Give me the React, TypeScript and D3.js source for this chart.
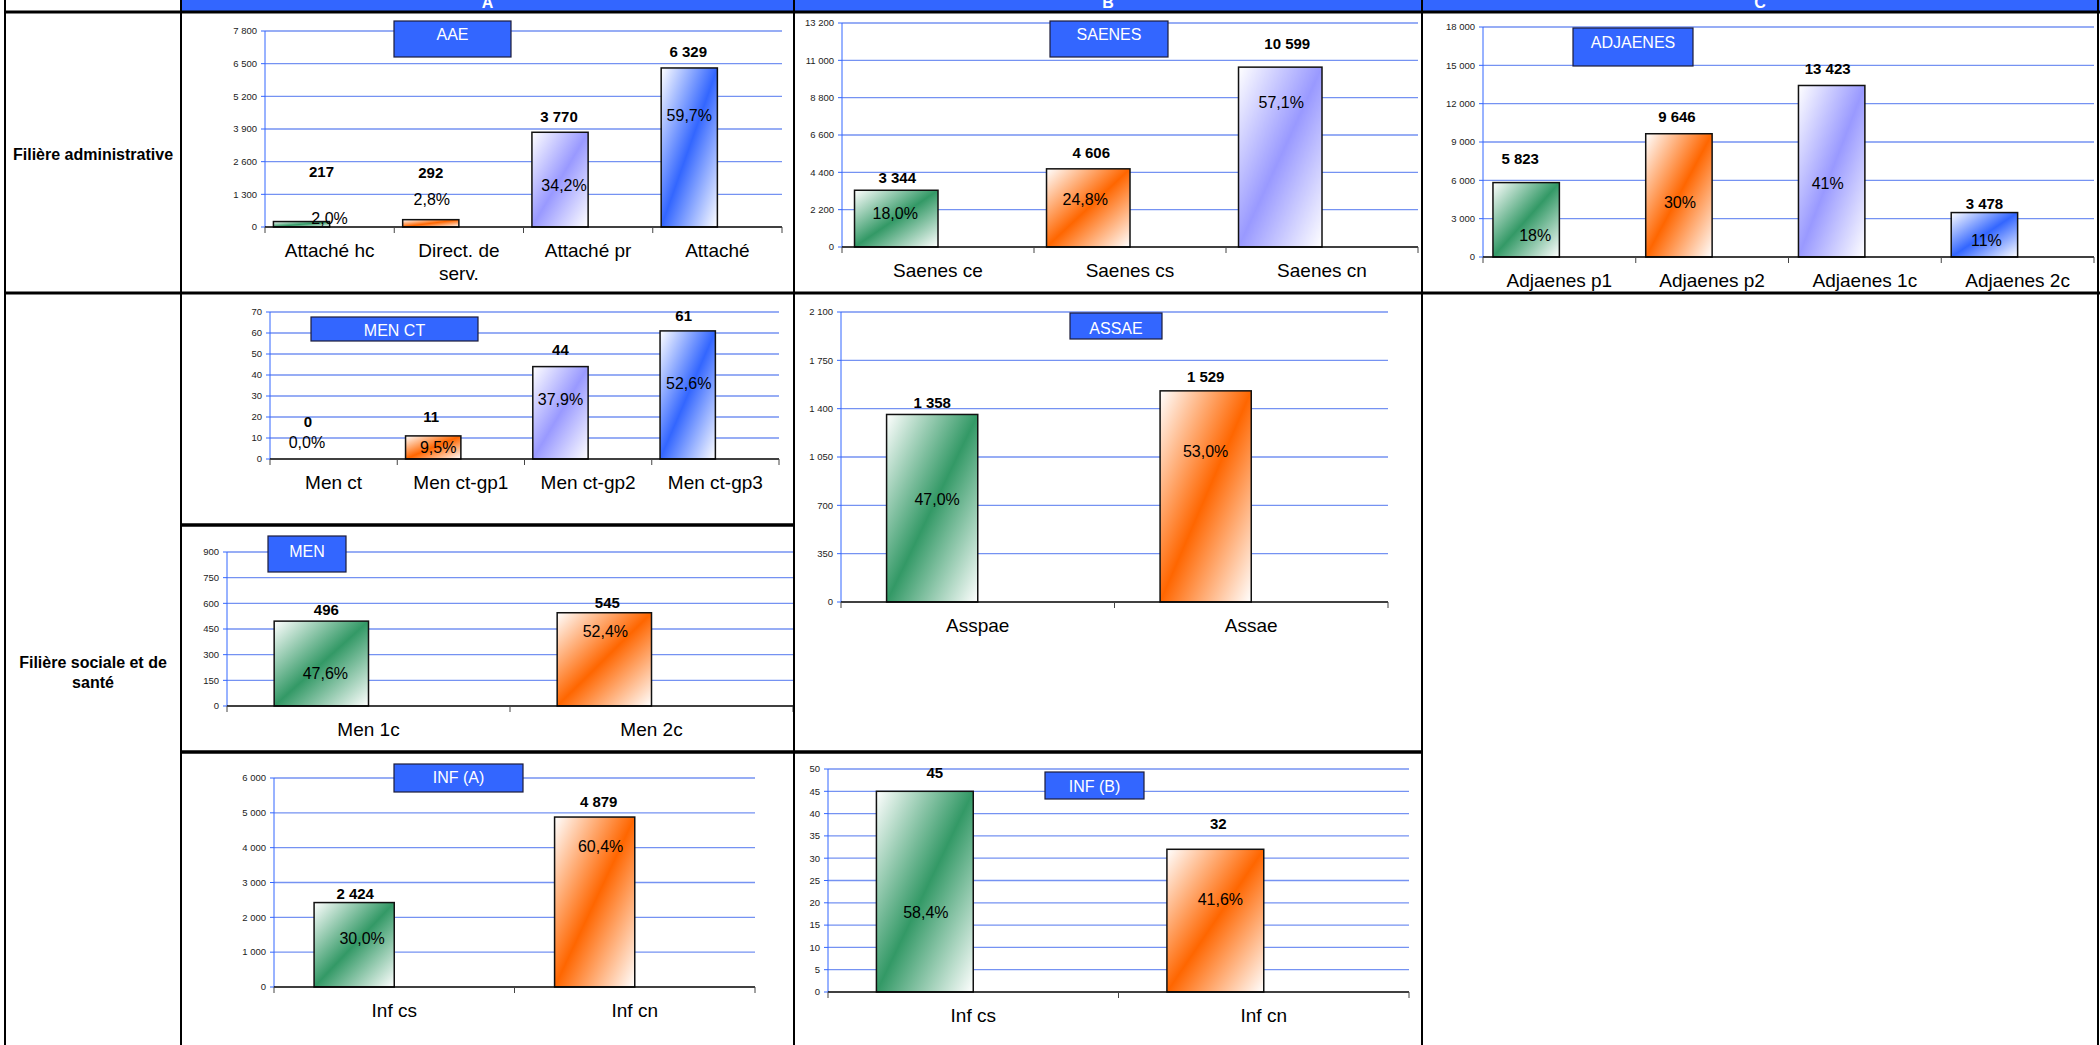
import React from "react";
import * as d3 from "d3";

const FONT = '"Liberation Sans", Arial, Helvetica, sans-serif';

// ---------------- data ----------------
const columnHeaders = ["A", "B", "C"];
const rowHeaders = ["Filière administrative", "Filière sociale et de santé"];

const aaeCategories = ["Attaché hc", "Direct. de serv.", "Attaché pr", "Attaché"];
const aaeValues = [217, 292, 3770, 6329];
const aaeShares = ["2,0%", "2,8%", "34,2%", "59,7%"];
const aaeTicks = [0, 1300, 2600, 3900, 5200, 6500, 7800];

const saenesCategories = ["Saenes ce", "Saenes cs", "Saenes cn"];
const saenesValues = [3344, 4606, 10599];
const saenesShares = ["18,0%", "24,8%", "57,1%"];
const saenesTicks = [0, 2200, 4400, 6600, 8800, 11000, 13200];

const adjaenesCategories = ["Adjaenes p1", "Adjaenes p2", "Adjaenes 1c", "Adjaenes 2c"];
const adjaenesValues = [5823, 9646, 13423, 3478];
const adjaenesShares = ["18%", "30%", "41%", "11%"];
const adjaenesTicks = [0, 3000, 6000, 9000, 12000, 15000, 18000];

const menCtCategories = ["Men ct", "Men ct-gp1", "Men ct-gp2", "Men ct-gp3"];
const menCtValues = [0, 11, 44, 61];
const menCtShares = ["0,0%", "9,5%", "37,9%", "52,6%"];
const menCtTicks = [0, 10, 20, 30, 40, 50, 60, 70];

const menCategories = ["Men 1c", "Men 2c"];
const menValues = [496, 545];
const menShares = ["47,6%", "52,4%"];
const menTicks = [0, 150, 300, 450, 600, 750, 900];

const assaeCategories = ["Asspae", "Assae"];
const assaeValues = [1358, 1529];
const assaeShares = ["47,0%", "53,0%"];
const assaeTicks = [0, 350, 700, 1050, 1400, 1750, 2100];

const infACategories = ["Inf cs", "Inf cn"];
const infAValues = [2424, 4879];
const infAShares = ["30,0%", "60,4%"];
const infATicks = [0, 1000, 2000, 3000, 4000, 5000, 6000];

const infBCategories = ["Inf cs", "Inf cn"];
const infBValues = [45, 32];
const infBShares = ["58,4%", "41,6%"];
const infBTicks = [0, 5, 10, 15, 20, 25, 30, 35, 40, 45, 50];

// ---------------- styles / layout ----------------
const barColors = ["#339966", "#FF6600", "#9999FF", "#3366FF"];
const GRID = "#7592f2";
const AXIS_BLUE = "#3366ff";

const fmt = d3.formatLocale({ decimal: ",", thousands: " ", grouping: [3], currency: ["", " €"] }).format(",d");

type Layout = {
  left: number; right: number; top: number; bottom: number; gap: number;
  box: number[]; titleY: number; val: number[][]; pct: number[][];
};

const L_AAE: Layout = { left: 265, right: 782, top: 31, bottom: 227, gap: 0.3, box: [394, 21, 511, 57], titleY: 34,
  val: [[20, -50], [0, -47], [-1, -16], [-1, -16]], pct: [[28, -3], [1, -20], [4, 53], [0, 47]] };
const L_SAENES: Layout = { left: 842, right: 1418, top: 23, bottom: 247, gap: 0.3, box: [1050, 21, 1168, 57], titleY: 34,
  val: [[1, -13], [3, -16], [7, -23]], pct: [[-1, 23], [-3, 31], [1, 35]] };
const L_ADJ: Layout = { left: 1483, right: 2094, top: 27, bottom: 257, gap: 0.3, box: [1573, 28, 1693, 66], titleY: 42,
  val: [[-6, -24], [-2, -17], [-4, -17], [0, -9]], pct: [[9, 53], [1, 69], [-4, 98], [2, 28]] };
const L_MENCT: Layout = { left: 270, right: 779, top: 312, bottom: 459, gap: 0.3, box: [311, 317, 478, 341], titleY: 330,
  val: [[2, -37], [-2, -19], [0, -17], [-4, -15]], pct: [[1, -17], [5, 11], [0, 33], [1, 52]] };
const L_MEN: Layout = { left: 227, right: 793, top: 552, bottom: 706, gap: 1, box: [268, 536, 346, 572], titleY: 551,
  val: [[5, -11], [3, -10]], pct: [[4, 52], [1, 19]] };
const L_ASSAE: Layout = { left: 841, right: 1388, top: 312, bottom: 602, gap: 1, box: [1070, 313, 1162, 339], titleY: 328,
  val: [[0, -12], [0, -14]], pct: [[5, 85], [0, 61]] };
const L_INFA: Layout = { left: 274, right: 755, top: 778, bottom: 987, gap: 1, box: [394, 764, 523, 792], titleY: 777,
  val: [[1, -9], [4, -15]], pct: [[8, 36], [6, 29]] };
const L_INFB: Layout = { left: 828, right: 1409, top: 769, bottom: 992, gap: 1, box: [1045, 772, 1144, 799], titleY: 786,
  val: [[10, -19], [3, -26]], pct: [[1, 121], [5, 50]] };

let measureCtx: CanvasRenderingContext2D | null = null;
function textWidth(t: string, font: string) {
  if (!measureCtx) measureCtx = document.createElement("canvas").getContext("2d");
  if (!measureCtx) return t.length * 9;
  measureCtx.font = font;
  return measureCtx.measureText(t).width;
}
function wrap(text: string, maxW: number, font: string) {
  const words = text.split(" ");
  const lines: string[] = [];
  let cur = "";
  for (const w of words) {
    const cand = cur ? cur + " " + w : w;
    if (cur && textWidth(cand, font) > maxW) {
      lines.push(cur);
      cur = w;
    } else cur = cand;
  }
  if (cur) lines.push(cur);
  return lines;
}

function BarChart(props: {
  title: string; categories: string[]; values: number[]; shares: string[]; ticks: number[]; L: Layout;
}) {
  const { title, categories, values, shares, ticks, L } = props;
  const y = d3.scaleLinear().domain([0, ticks[ticks.length - 1]]).range([L.bottom, L.top]);
  const x = d3.scaleBand<string>().domain(categories).range([L.left, L.right]).paddingInner(0).paddingOuter(0);
  const bw = x.bandwidth();
  const wFrac = 1 / (2 + L.gap);
  const offFrac = (L.gap / 2) * wFrac;
  const catFont = `19px "Liberation Sans"`;
  const boundaries = categories.map((c) => x(c) as number).concat([L.right]);
  return (
    <g>
      {ticks.filter((t) => t !== 0).map((t) => (
        <line key={"g" + t} x1={L.left} x2={L.right} y1={y(t)} y2={y(t)} stroke={GRID} strokeWidth={1.3} />
      ))}
      <line x1={L.left} x2={L.left} y1={y(ticks[ticks.length - 1])} y2={L.bottom} stroke={AXIS_BLUE} strokeWidth={1} />
      {ticks.map((t) => (
        <g key={"t" + t}>
          <line x1={L.left - 4} x2={L.left} y1={y(t)} y2={y(t)} stroke={AXIS_BLUE} strokeWidth={1} />
          <text x={L.left - 8} y={y(t)} dy="0.35em" textAnchor="end" fontSize={9.5} fill="#222">
            {fmt(t)}
          </text>
        </g>
      ))}
      {categories.map((c, i) => {
        const v = values[i];
        if (v <= 0) return null;
        const bx = (x(c) as number) + offFrac * bw;
        return (
          <rect key={"b" + c} x={bx} y={y(v)} width={wFrac * bw} height={y(0) - y(v)}
            fill={`url(#grad${i})`} stroke="#111" strokeWidth={1.5} />
        );
      })}
      <line x1={L.left} x2={L.right} y1={L.bottom} y2={L.bottom} stroke="#000" strokeWidth={1.6} />
      {boundaries.map((bx, i) => (
        <line key={"xt" + i} x1={bx} x2={bx} y1={L.bottom} y2={L.bottom + 6} stroke="#444" strokeWidth={1} />
      ))}
      {categories.map((c) => {
        const lines = wrap(c, bw * 0.9, catFont);
        return (
          <text key={"c" + c} x={(x(c) as number) + bw / 2} y={L.bottom + 23.5} dy="0.35em" textAnchor="middle" fontSize={19} fill="#000">
            {lines.map((ln, k) => (
              <tspan key={k} x={(x(c) as number) + bw / 2} dy={k === 0 ? "0.35em" : 23}>{ln}</tspan>
            ))}
          </text>
        );
      })}
      {categories.map((c, i) => {
        const cx = (x(c) as number) + offFrac * bw + (wFrac * bw) / 2;
        const top = y(values[i]);
        return (
          <g key={"l" + c}>
            <text x={cx + L.val[i][0]} y={top + L.val[i][1]} dy="0.35em" textAnchor="middle" fontSize={15} fontWeight="bold" fill="#000">
              {fmt(values[i])}
            </text>
            <text x={cx + L.pct[i][0]} y={top + L.pct[i][1]} dy="0.35em" textAnchor="middle" fontSize={16} fill="#000">
              {shares[i]}
            </text>
          </g>
        );
      })}
      <rect x={L.box[0]} y={L.box[1]} width={L.box[2] - L.box[0]} height={L.box[3] - L.box[1]} fill="#3366FF" stroke="#1b1b3a" strokeWidth={1.2} />
      <text x={(L.box[0] + L.box[2]) / 2} y={L.titleY} dy="0.35em" textAnchor="middle" fontSize={16} fill="#fff">
        {title}
      </text>
    </g>
  );
}

const colX = [5, 181, 794, 1422, 2098];
const headerBottom = 12;
const row1Bottom = 293;
const subRow1Bottom = 525;
const subRow2Bottom = 752;

export default function App() {
  const rowFont = `bold 16px "Liberation Sans"`;
  const row2Lines = wrap(rowHeaders[1], 170, rowFont);
  return (
    <svg width={2100} height={1045} style={{ position: "absolute", left: 0, top: 0, background: "#fff" }}
      fontFamily={FONT}>
      <defs>
        {barColors.map((c, i) => (
          <linearGradient key={i} id={`grad${i}`} x1="0" y1="0" x2="1" y2="1">
            <stop offset="0" stopColor="#ffffff" />
            <stop offset="0.5" stopColor={c} />
            <stop offset="1" stopColor="#ffffff" />
          </linearGradient>
        ))}
      </defs>
      <rect x={0} y={0} width={2100} height={1045} fill="#fff" />
      {/* header */}
      <rect x={colX[1]} y={0} width={2100 - colX[1]} height={headerBottom} fill="#3366FF" />
      {columnHeaders.map((h, i) => (
        <text key={h} x={(colX[i + 1] + colX[i + 2]) / 2} y={8} textAnchor="middle" fontSize={16} fontWeight="bold" fill="#fff">
          {h}
        </text>
      ))}
      {/* row labels */}
      <text x={(colX[0] + colX[1]) / 2} y={154} dy="0.35em" textAnchor="middle" fontSize={16} fontWeight="bold">
        {rowHeaders[0]}
      </text>
      <text x={(colX[0] + colX[1]) / 2} y={672 - ((row2Lines.length - 1) * 20) / 2} textAnchor="middle" fontSize={16} fontWeight="bold">
        {row2Lines.map((ln, k) => (
          <tspan key={k} x={(colX[0] + colX[1]) / 2} dy={k === 0 ? "0.35em" : 20}>{ln}</tspan>
        ))}
      </text>

      <BarChart title="AAE" categories={aaeCategories} values={aaeValues} shares={aaeShares} ticks={aaeTicks} L={L_AAE} />
      <BarChart title="SAENES" categories={saenesCategories} values={saenesValues} shares={saenesShares} ticks={saenesTicks} L={L_SAENES} />
      <BarChart title="ADJAENES" categories={adjaenesCategories} values={adjaenesValues} shares={adjaenesShares} ticks={adjaenesTicks} L={L_ADJ} />
      <BarChart title="MEN CT" categories={menCtCategories} values={menCtValues} shares={menCtShares} ticks={menCtTicks} L={L_MENCT} />
      <BarChart title="MEN" categories={menCategories} values={menValues} shares={menShares} ticks={menTicks} L={L_MEN} />
      <BarChart title="ASSAE" categories={assaeCategories} values={assaeValues} shares={assaeShares} ticks={assaeTicks} L={L_ASSAE} />
      <BarChart title="INF (A)" categories={infACategories} values={infAValues} shares={infAShares} ticks={infATicks} L={L_INFA} />
      <BarChart title="INF (B)" categories={infBCategories} values={infBValues} shares={infBShares} ticks={infBTicks} L={L_INFB} />

      {/* table lines */}
      {colX.map((cx, i) => (
        <line key={"v" + i} x1={cx} x2={cx} y1={0} y2={1045} stroke="#000" strokeWidth={2} />
      ))}
      <line x1={colX[0]} x2={2100} y1={headerBottom} y2={headerBottom} stroke="#000" strokeWidth={3} />
      <line x1={colX[0]} x2={2100} y1={row1Bottom} y2={row1Bottom} stroke="#000" strokeWidth={3} />
      <line x1={colX[1]} x2={colX[2]} y1={subRow1Bottom} y2={subRow1Bottom} stroke="#000" strokeWidth={3.5} />
      <line x1={colX[1]} x2={colX[3]} y1={subRow2Bottom} y2={subRow2Bottom} stroke="#000" strokeWidth={3.5} />
    </svg>
  );
}
